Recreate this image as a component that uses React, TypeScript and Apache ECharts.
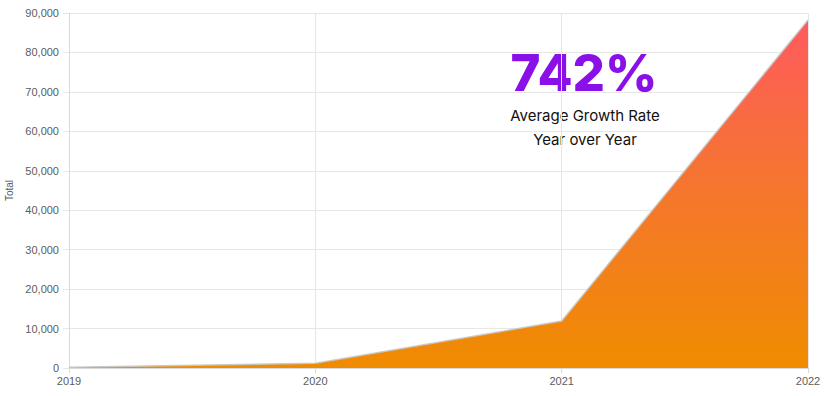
import React, { useEffect, useRef } from "react";
import * as echarts from "echarts";

const years = ["2019", "2020", "2021", "2022"];
const totals = [200, 1200, 11900, 88200];
const yTicks = [0, 10000, 20000, 30000, 40000, 50000, 60000, 70000, 80000, 90000];
const headline = "742%";
const subLines = ["Average Growth Rate", "Year over Year"];

export default function App() {
  const ref = useRef<HTMLDivElement>(null);
  useEffect(() => {
    if (!ref.current) return;
    const chart = echarts.init(ref.current, null, { renderer: "svg" });
    chart.setOption({
      animation: false,
      grid: { left: 69, right: 19, top: 13, bottom: 28, containLabel: false, outerBoundsMode: "none" },
      xAxis: {
        type: "category",
        data: years,
        boundaryGap: false,
        axisLine: { show: true, lineStyle: { color: "#d9d9d9" } },
        axisTick: { show: true, length: 5, lineStyle: { color: "#d9d9d9" } },
        axisLabel: { color: "#5c5c5c", fontSize: 11, fontFamily: "Liberation Sans", margin: 7 },
        splitLine: { show: true, lineStyle: { color: "#e6e6e6" } },
      },
      yAxis: {
        type: "value",
        min: yTicks[0],
        max: yTicks[yTicks.length - 1],
        interval: 10000,
        name: "Total",
        nameLocation: "middle",
        nameGap: 54,
        nameRotate: 90,
        nameTextStyle: { color: "#5c5c5c", fontSize: 10, fontFamily: "Liberation Sans" },
        axisLine: { show: true, lineStyle: { color: "#d9d9d9" } },
        axisTick: { show: true, length: 6, lineStyle: { color: "#e6e6e6" } },
        axisLabel: {
          color: "#5c5c5c",
          fontSize: 11,
          fontFamily: "Liberation Sans",
          margin: 10,
          formatter: (v: number) => v.toLocaleString("en-US"),
        },
        splitLine: { show: true, lineStyle: { color: "#e6e6e6" } },
      },
      series: [
        {
          type: "line",
          data: totals,
          symbol: "none",
          lineStyle: { color: "rgba(200,200,200,0.9)", width: 1.5 },
          areaStyle: {
            opacity: 1,
            color: new echarts.graphic.LinearGradient(0, 0, 0, 1, [
              { offset: 0, color: "#ff5a5e" },
              { offset: 0.5, color: "#f5772c" },
              { offset: 1, color: "#f08c00" },
            ]),
          },
        },
      ],
      graphic: [
        {
          type: "text",
          x: 584,
          y: 72,
          style: {
            text: headline,
            fill: "#8a10e8",
            font: "800 51px Inter, sans-serif",
            textAlign: "center",
            textVerticalAlign: "middle",
          },
        },
        {
          type: "text",
          x: 585,
          y: 115,
          style: {
            text: subLines[0],
            fill: "#111",
            font: "15px Inter, sans-serif",
            textAlign: "center",
            textVerticalAlign: "middle",
          },
        },
        {
          type: "text",
          x: 585,
          y: 139,
          style: {
            text: subLines[1],
            fill: "#111",
            font: "15px Inter, sans-serif",
            textAlign: "center",
            textVerticalAlign: "middle",
          },
        },
      ],
    });
    return () => chart.dispose();
  }, []);
  return <div ref={ref} style={{ width: 827, height: 396, position: "absolute", left: 0, top: 0 }} />;
}
